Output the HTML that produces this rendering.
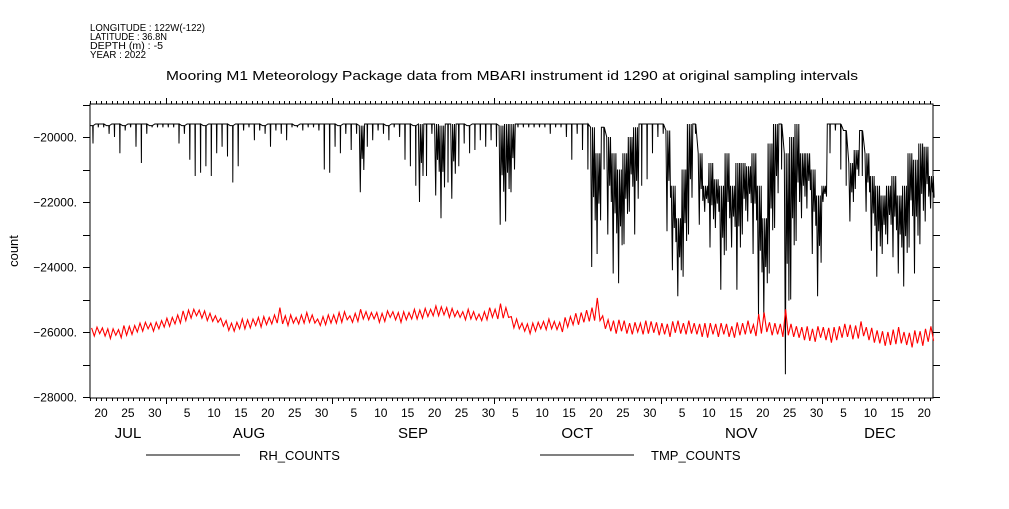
<!DOCTYPE html>
<html><head><meta charset="utf-8"><style>
body{margin:0;background:#fff;}
svg text{font-family:"Liberation Sans",sans-serif;fill:#000;}
</style></head><body>
<svg id="chart" width="1009" height="504" xmlns="http://www.w3.org/2000/svg">
<g font-size="10">
<text x="90" y="31" textLength="115" lengthAdjust="spacingAndGlyphs">LONGITUDE : 122W(-122)</text>
<text x="90" y="40" textLength="77" lengthAdjust="spacingAndGlyphs">LATITUDE : 36.8N</text>
<text x="90" y="49" textLength="73" lengthAdjust="spacingAndGlyphs">DEPTH (m) : -5</text>
<text x="90" y="58" textLength="56" lengthAdjust="spacingAndGlyphs">YEAR : 2022</text>
</g>
<text x="166" y="80" textLength="692" lengthAdjust="spacingAndGlyphs" font-size="13">Mooring M1 Meteorology Package data from MBARI instrument id 1290 at original sampling intervals</text>
<text x="18" y="251" font-size="13" text-anchor="middle" transform="rotate(-90 18 251)">count</text>
<g id="axes"></g>
<g id="series"></g>
<g font-size="13">
<line x1="146" y1="455" x2="240" y2="455" stroke="#000"/>
<text x="259" y="460">RH_COUNTS</text>
<line x1="540" y1="455" x2="634" y2="455" stroke="#000"/>
<text x="651" y="460">TMP_COUNTS</text>
</g>
</svg>
<script>
// Days from Jul 18 to Dec 21, 2022 (157 days)
const rhMin = [
-20200,-19700,-19700,-19900,-20000,-20500,-19800,-19700,-20300,-20800,-19900,-19700,-19700,-19700,
-19700,-19700,-20200,-19900,-20700,-21200,-21100,-20900,-21200,-20500,-20300,-20600,-21400,-20900,-19800,-19700,-20100,-19800,-19900,-20300,-19800,-19900,-20100,-19700,-19700,-19800,-19700,-19700,-19800,-21000,-21100,
-20300,-20500,-19900,-20400,-19900,-21700,-20300,-20100,-19800,-19900,-20100,-19700,-20000,-20700,-20900,-21500,-22000,-21200,-19900,-21800,-22500,-21400,-21900,-20900,-20200,-20500,-20400,-20100,-20300,-20100,
-20300,-22700,-22600,-21700,-19700,-19700,-19700,-19700,-19700,-19700,-19900,-19700,-19700,-20000,-20700,-19900,-20400,-21000,-24000,-23600,-21000,-23000,-24200,-24500,-23300,-22300,-23000,-21500,-21300,-20500,-20000,
-19900,-22900,-24100,-24900,-24300,-23000,-19900,-22700,-22300,-23400,-22800,-24700,-23500,-23400,-24700,-23000,-22600,-23600,-25500,-25500,-24200,-22800,-21000,-27300,-25000,-23200,-22500,-22200,-23600,-24900,
-22000,-20500,-19800,-21000,-21500,-22600,-21600,-21200,-22300,-23500,-24300,-23600,-23300,-23700,-24200,-24600,-23400,-24200,-23300,-22600,-22200];
const rhMax = [
-19650,-19600,-19600,-19650,-19600,-19600,-19650,-19600,-19600,-19600,-19600,-19650,-19600,-19600,
-19600,-19600,-19600,-19650,-19600,-19600,-19600,-19650,-19600,-19600,-19600,-19600,-19650,-19600,-19600,-19600,-19600,-19600,-19650,-19600,-19600,-19600,-19600,-19600,-19650,-19600,-19600,-19600,-19600,-19600,-19600,
-19600,-19650,-19600,-19600,-19600,-19650,-19600,-19600,-19600,-19600,-19650,-19600,-19600,-19600,-19600,-19650,-19600,-19600,-19600,-19600,-19650,-19600,-19600,-19600,-19600,-19650,-19600,-19600,-19600,-19600,
-19600,-19650,-19600,-19600,-19600,-19600,-19600,-19600,-19600,-19600,-19600,-19600,-19600,-19600,-19600,-19600,-19600,-19600,-19700,-20500,-19700,-20000,-20500,-21000,-20500,-20000,-19700,-19600,-19600,-19600,-19600,
-19600,-19800,-21500,-22500,-21000,-19600,-19600,-20500,-21500,-20800,-21300,-21500,-20500,-21500,-20800,-20800,-20900,-20500,-21500,-22500,-20200,-19600,-19600,-20500,-20000,-19600,-20500,-20500,-21000,-21800,
-21500,-19600,-19600,-19600,-19800,-20800,-20400,-19800,-20500,-21200,-21500,-21800,-21500,-21200,-21800,-21500,-20500,-20700,-20200,-20300,-21200];
const tmpMid = [
-26000,-25950,-26000,-26050,-26000,-26050,-25950,-25950,-25900,-25850,-25800,-25850,-25800,-25750,
-25700,-25650,-25600,-25500,-25450,-25400,-25450,-25500,-25550,-25600,-25700,-25800,-25850,-25800,-25750,-25750,-25700,-25700,-25650,-25650,-25600,-25500,-25650,-25600,-25650,-25600,-25550,-25600,-25700,-25650,-25600,
-25600,-25550,-25500,-25600,-25550,-25450,-25500,-25500,-25550,-25550,-25450,-25500,-25550,-25500,-25500,-25450,-25450,-25400,-25400,-25350,-25350,-25400,-25400,-25450,-25500,-25450,-25500,-25550,-25500,-25400,
-25450,-25350,-25400,-25700,-25750,-25850,-25900,-25850,-25800,-25800,-25750,-25800,-25850,-25700,-25650,-25600,-25550,-25500,-25450,-25300,-25700,-25800,-25850,-25800,-25850,-25900,-25850,-25900,-25850,-25850,-25900,
-25900,-25950,-25850,-25850,-25900,-25850,-25900,-25950,-25950,-25900,-25950,-25900,-25950,-26000,-25900,-25900,-25850,-25950,-25750,-25700,-25900,-25900,-25950,-25700,-25950,-26000,-26050,-26050,-26100,-26000,
-26050,-26100,-26050,-26000,-25950,-26000,-26000,-25900,-26050,-26100,-26150,-26200,-26200,-26150,-26100,-26200,-26250,-26150,-26200,-26100,-26050];
const tmpRange = [
250,200,250,300,200,250,300,250,200,250,200,250,200,200,
250,200,250,300,250,200,250,300,250,200,250,300,250,200,300,250,200,300,250,200,250,500,300,250,200,250,300,250,200,250,250,
250,300,250,200,250,300,250,200,300,250,200,250,300,250,200,300,250,250,200,300,250,300,250,200,250,300,250,200,250,300,
300,450,300,350,300,250,300,250,200,250,300,250,300,300,250,350,300,350,400,700,400,350,400,350,400,350,300,350,400,350,400,
350,400,350,400,350,400,350,400,450,350,400,350,400,350,400,350,400,350,600,600,400,350,400,800,400,350,400,450,400,350,
400,450,400,350,400,450,400,450,400,450,400,450,400,450,500,400,450,400,450,400,450];
const yTicks = [-20000,-22000,-24000,-26000,-28000];
const dayLabels = [[2,"20"],[7,"25"],[12,"30"],[18,"5"],[23,"10"],[28,"15"],[33,"20"],[38,"25"],[43,"30"],[49,"5"],[54,"10"],[59,"15"],[64,"20"],[69,"25"],[74,"30"],[79,"5"],[84,"10"],[89,"15"],[94,"20"],[99,"25"],[104,"30"],[110,"5"],[115,"10"],[120,"15"],[125,"20"],[130,"25"],[135,"30"],[140,"5"],[145,"10"],[150,"15"],[155,"20"]];
const monthStarts = [-17,14,45,75,106,136,167];
const monthNames = ["JUL","AUG","SEP","OCT","NOV","DEC"];

const X0=90,X1=933,Y0=104,Y1=398, PX=5.38;
function xs(d){return X0+ (d+0.05)*PX;}
function ys(v){return 137+(-20000-v)*65/2000;}
const NS="http://www.w3.org/2000/svg";
const ax=document.getElementById('axes'), se=document.getElementById('series');
function mk(tag,attrs,parent){const e=document.createElementNS(NS,tag);for(const k in attrs)e.setAttribute(k,attrs[k]);parent.appendChild(e);return e;}
let frame=mk('rect',{x:X0,y:Y0,width:X1-X0,height:Y1-Y0,fill:'none',stroke:'#000','stroke-width':1},ax);


let tp='';
for(let d=0; d<157; d++){
  const x=Math.round(xs(d))+0.5; const maj=monthStarts.includes(d);
  const L=maj?6:3;
  tp+=`M${x} ${Y1}v${L}M${x} ${Y0}v${-L}`;
}
let tk=mk('path',{d:tp,stroke:'#000','stroke-width':1,fill:'none'},ax);


let yp='';
for(let v=-19000; v>=-28000; v-=1000){const y=Math.round(ys(v))+0.5; yp+=`M${X0} ${y}h-7M${X1} ${y}h7`;}
let ytk=mk('path',{d:yp,stroke:'#000','stroke-width':1,fill:'none'},ax);


yTicks.forEach(v=>{const t=mk('text',{x:77,y:ys(v)+4.5,'text-anchor':'end','font-size':12},ax);t.textContent=v.toString().replace('-','\u2212')+'.';

});
dayLabels.forEach(([d,s])=>{const t=mk('text',{x:xs(d),y:417,'text-anchor':'middle','font-size':12},ax);t.textContent=s;

});
monthNames.forEach((m,i)=>{
const t=mk('text',{x:xs((monthStarts[i]+monthStarts[i+1])/2),y:438,'text-anchor':'middle','font-size':15},ax);
if(i==0)t.setAttribute('x',128); if(i==5)t.setAttribute('x',880);
t.textContent=m;

});
// RH series
let p=[];
for(let i=0;i<rhMin.length;i++){
  const busy = rhMin[i] < -21500 || rhMax[i] < -19900;
  if(busy){
    p.push([xs(i),ys(rhMax[i])],[xs(i+0.2),ys(rhMin[i])],[xs(i+0.35),ys(rhMax[i])],[xs(i+0.55),ys((rhMin[i]+rhMax[i])/2)],[xs(i+0.7),ys(rhMax[i])],[xs(i+0.85),ys((rhMin[i]*2+rhMax[i])/3)]);
  } else {
    p.push([xs(i),ys(rhMax[i])],[xs(i+0.45),ys(rhMax[i])],[xs(i+0.5),ys(rhMin[i])],[xs(i+0.55),ys(rhMax[i])]);
  }
}
let rh=mk('polyline',{points:p.map(q=>q[0].toFixed(1)+','+q[1].toFixed(1)).join(' '),fill:'none',stroke:'#000','stroke-width':1},se);


let q=[];
for(let i=0;i<tmpMid.length;i++){
  q.push([xs(i+0.25),ys(tmpMid[i]+tmpRange[i]/2)],[xs(i+0.75),ys(tmpMid[i]-tmpRange[i]/2)]);
}
let tm=mk('polyline',{points:q.map(r=>r[0].toFixed(1)+','+r[1].toFixed(1)).join(' '),fill:'none',stroke:'#f00','stroke-width':1.1},se);


</script>
</body></html>
